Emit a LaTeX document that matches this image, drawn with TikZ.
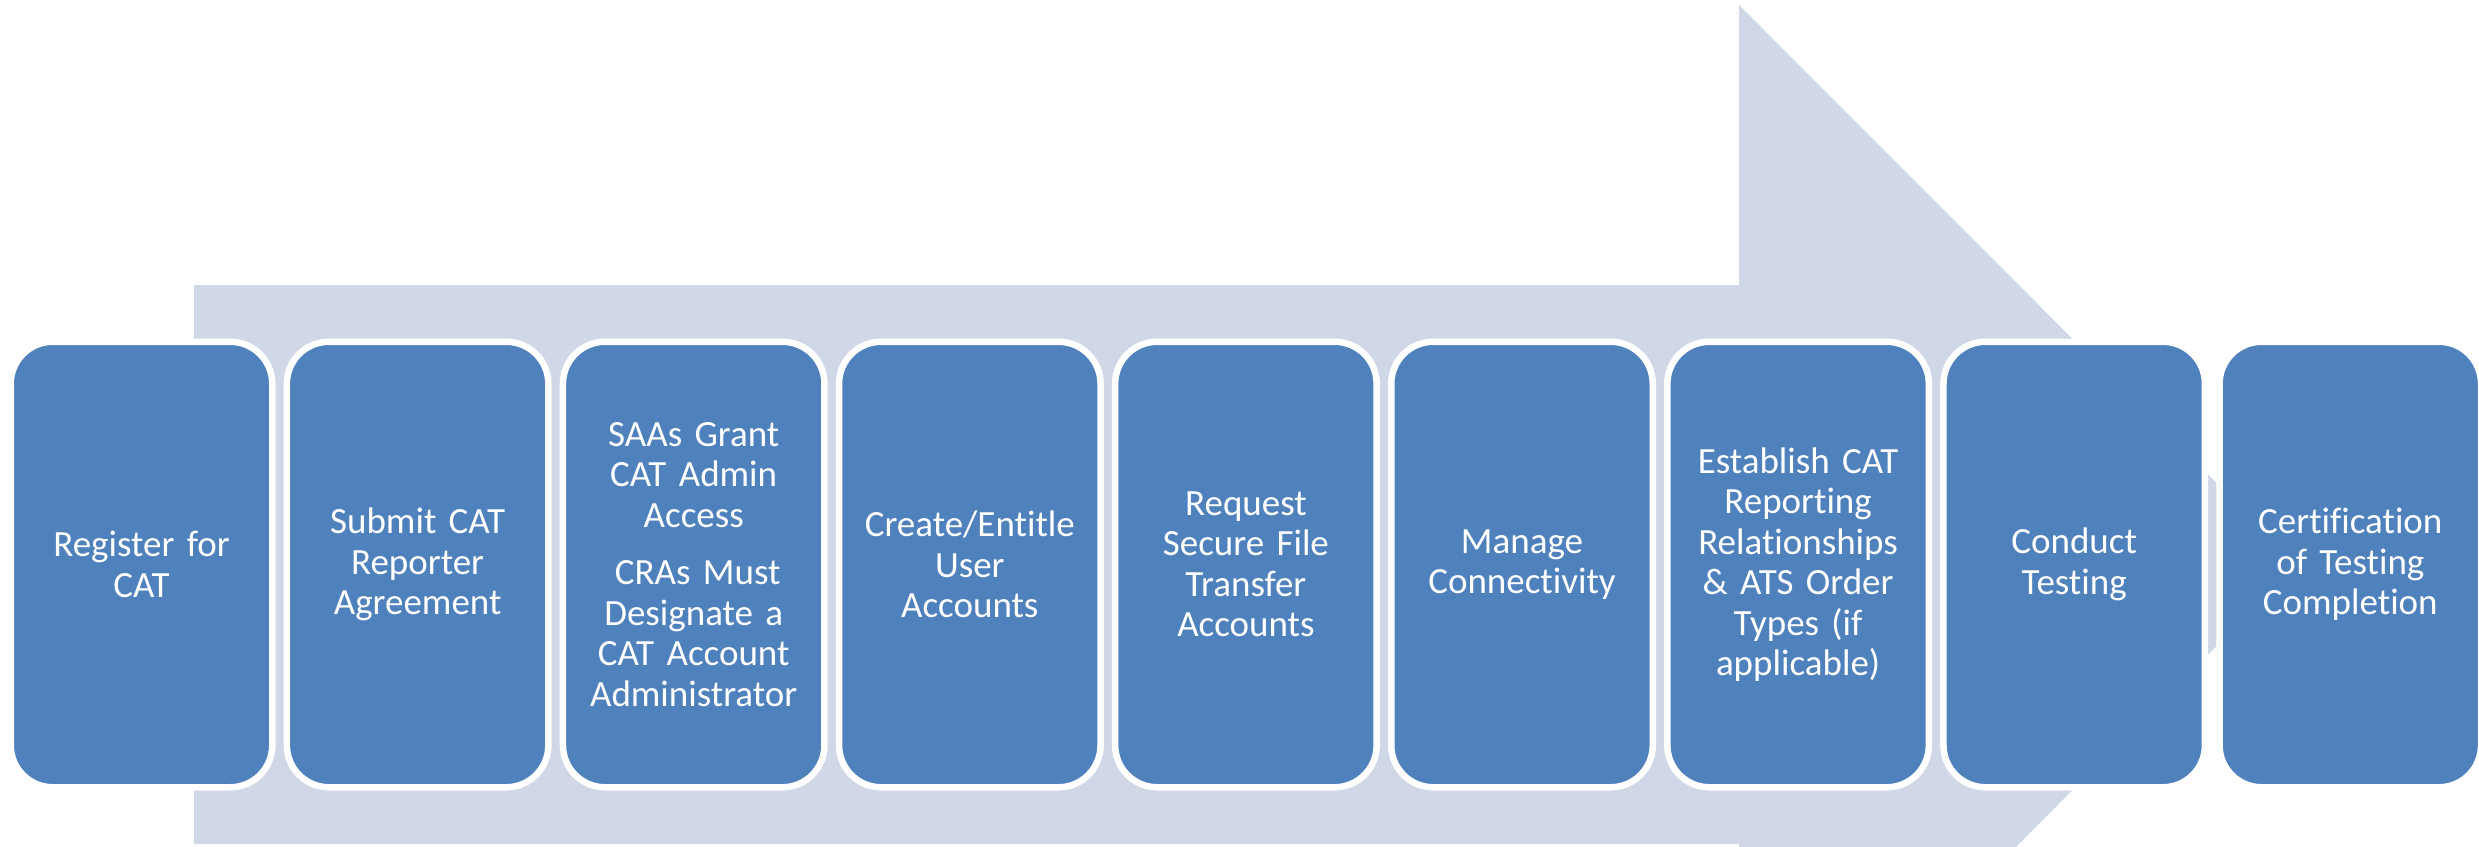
\documentclass[tikz,border=0pt]{standalone}
\usepackage{fontspec}
\setmainfont{Carlito}[Ligatures=NoCommon, WordSpace=0.8]
\definecolor{arrowfill}{RGB}{208,216,232}
\definecolor{boxfill}{RGB}{79,129,189}
\begin{document}
\begin{tikzpicture}[x=1pt,y=-1pt,
  stepbox/.style={rectangle, rounded corners=42pt, fill=boxfill, draw=white,
    line width=6.5pt, minimum width=261.5pt, minimum height=445.5pt,
    inner sep=0pt, text width=240pt, align=center, text=white,
    font=\fontsize{37}{40.5}\selectfont}]
\useasboundingbox (0,0) rectangle (2479,846);
\clip (0,0) rectangle (2479,846);
\fill[arrowfill] (194,285) -- (1739,285) -- (1739,5) -- (2298,564.5) -- (1739,1124) -- (1739,844) -- (194,844) -- cycle;
\node[stepbox] (b1) at (141.5,564.5) {Register for\\CAT};
\node[stepbox] (b2) at (417.6,564.5) {Submit CAT\\Reporter\\Agreement};
\node[stepbox] (b3) at (693.7,564.5) {SAAs Grant\\CAT Admin\\Access\\[17pt]\hspace*{8pt}CRAs Must\\Designate a\\CAT Account\\Administrator};
\node[stepbox] (b4) at (969.8,564.5) {Create/Entitle\\User\\Accounts};
\node[stepbox] (b5) at (1245.9,564.5) {Request\\Secure File\\Transfer\\Accounts};
\node[stepbox] (b6) at (1522.0,564.5) {Manage\\Connectivity};
\node[stepbox] (b7) at (1798.1,564.5) {Establish CAT\\Reporting\\Relationships\\\& ATS Order\\Types (if\\applicable)};
\node[stepbox] (b8) at (2074.2,564.5) {Conduct\\Testing};
\node[stepbox] (b9) at (2350.3,564.5) {Certification\\of Testing\\Completion};
\end{tikzpicture}
\end{document}
